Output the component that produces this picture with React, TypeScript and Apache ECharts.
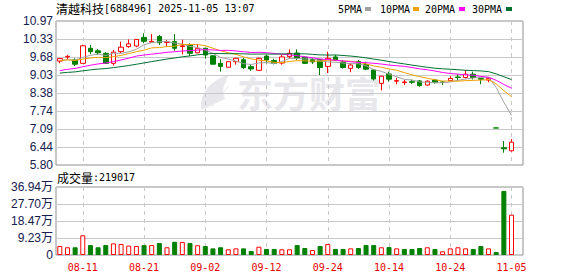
import React, { useEffect, useRef } from "react";
import * as echarts from "echarts";

const stockName = "清越科技";
const stockCode = "688496";
const stamp = "2025-11-05 13:07";

const dates = [
  "08-06", "08-07", "08-08", "08-11", "08-12", "08-13", "08-14", "08-15", "08-18", "08-19",
  "08-20", "08-21", "08-22", "08-25", "08-26", "08-27", "08-28", "08-29", "09-01", "09-02",
  "09-03", "09-04", "09-05", "09-08", "09-09", "09-10", "09-11", "09-12", "09-15", "09-16",
  "09-17", "09-18", "09-19", "09-22", "09-23", "09-24", "09-25", "09-26", "09-29", "09-30",
  "10-09", "10-10", "10-13", "10-14", "10-15", "10-16", "10-17", "10-20", "10-21", "10-22",
  "10-23", "10-24", "10-27", "10-28", "10-29", "10-30", "10-31", "11-03", "11-04", "11-05",
];

const opens = [
  9.53, 9.68, 9.57, 9.45, 9.99, 9.90, 9.81, 9.45, 9.87, 10.05,
  10.07, 10.38, 10.21, 10.41, 10.20, 10.23, 10.05, 10.11, 9.83, 9.99,
  9.72, 9.45, 9.31, 9.51, 9.58, 9.33, 9.20, 9.71, 9.55, 9.46,
  9.69, 9.82, 9.67, 9.59, 9.59, 9.34, 9.68, 9.50, 9.27, 9.51,
  9.40, 9.21, 8.73, 9.07, 8.81, 8.76, 8.79, 8.82, 8.67, 8.85,
  8.78, 8.83, 8.96, 8.94, 9.06, 8.90, 8.85, 7.13, 6.42, 6.31,
];
const closes = [
  9.62, 9.70, 9.42, 10.08, 9.87, 9.83, 9.45, 9.85, 10.03, 10.15,
  10.31, 10.24, 10.24, 10.19, 10.22, 9.99, 10.08, 9.81, 9.99, 9.75,
  9.42, 9.34, 9.51, 9.63, 9.30, 9.25, 9.63, 9.57, 9.45, 9.68,
  9.81, 9.63, 9.45, 9.50, 9.30, 9.63, 9.57, 9.30, 9.39, 9.30,
  9.24, 8.89, 8.99, 8.88, 8.83, 8.78, 8.77, 8.65, 8.81, 8.76,
  8.77, 8.91, 8.94, 9.06, 8.94, 8.88, 8.91, 7.13, 6.38, 6.62,
];
const lows = [
  9.45, 9.60, 9.35, 9.45, 9.78, 9.75, 9.43, 9.37, 9.81, 10.01,
  10.03, 10.17, 10.21, 10.11, 10.05, 9.90, 9.77, 9.71, 9.81, 9.62,
  9.41, 9.15, 9.30, 9.40, 9.25, 9.18, 9.19, 9.45, 9.41, 9.40,
  9.63, 9.57, 9.43, 9.43, 9.03, 9.10, 9.53, 9.26, 9.13, 9.25,
  9.21, 8.83, 8.48, 8.79, 8.70, 8.67, 8.71, 8.61, 8.65, 8.72,
  8.67, 8.83, 8.82, 8.91, 8.87, 8.70, 8.77, 7.13, 6.24, 6.28,
];
const highs = [
  9.64, 9.75, 9.63, 10.12, 10.11, 9.96, 9.85, 9.93, 10.23, 10.31,
  10.31, 10.53, 10.50, 10.47, 10.29, 10.50, 10.30, 10.17, 10.14, 10.00,
  9.74, 9.60, 9.52, 9.65, 9.65, 9.43, 9.65, 9.75, 9.62, 9.77,
  9.95, 9.95, 9.69, 9.65, 9.60, 9.87, 9.75, 9.57, 9.45, 9.57,
  9.51, 9.23, 9.00, 9.15, 8.93, 8.85, 8.87, 8.85, 8.84, 8.89,
  8.81, 8.99, 9.06, 9.21, 9.15, 8.93, 8.93, 7.13, 6.66, 6.73,
];
// closes of the 29 sessions before the first visible one (used for the moving averages)
const prevCloses = [
  8.95, 8.88, 8.92, 8.85, 8.97, 8.90, 8.86, 8.93, 8.98, 8.96,
  8.80, 8.78, 8.85, 8.82, 8.87, 8.79, 8.84, 8.86, 8.88, 8.81,
  9.45, 9.62, 9.58, 9.51, 9.59, 9.55, 9.48, 9.60, 9.50,
];
const volumes = [
  49000, 42000, 42000, 107000, 54000, 42000, 54000, 63000, 60000, 51000,
  49000, 54000, 54000, 65000, 42000, 72000, 71000, 65000, 53000, 49000,
  36000, 42000, 31000, 36000, 36000, 22000, 45000, 33000, 33000, 31000,
  31000, 54000, 38000, 27000, 49000, 60000, 33000, 33000, 36000, 38000,
  54000, 54000, 42000, 43000, 36000, 33000, 33000, 38000, 42000, 33000,
  20000, 36000, 42000, 36000, 33000, 49000, 36000, 16000, 348000, 219017,
];
const volumeUp = [
  1, 1, 0, 1, 0, 0, 0, 1, 1, 1,
  1, 0, 1, 0, 1, 0, 1, 0, 1, 0,
  0, 0, 1, 1, 0, 0, 1, 0, 0, 1,
  1, 0, 0, 1, 0, 1, 0, 0, 1, 0,
  0, 0, 1, 0, 1, 0, 0, 0, 1, 0,
  1, 1, 1, 1, 0, 0, 1, 0, 0, 1,
];

const priceTickLabels = ["5.80", "6.44", "7.09", "7.74", "8.38", "9.03", "9.68", "10.33", "10.97"];
const volumeTickLabels = ["0", "9.23万", "18.47万", "27.70万", "36.94万"];
const PRICE_MIN = 5.8;
const PRICE_MAX = 10.97;
const VOL_MAX = 369400;

const maNames = ["5PMA", "10PMA", "20PMA", "30PMA"];
const maPeriods = [5, 10, 20, 30];
const maColors = ["#a0a0a0", "#f0a000", "#ff00ff", "#007030"];

const UP = "#ff0000";
const DOWN = "#008000";
const GRID = "#c8c8c8";
const FRAME = "#909090";
const AXIS_TXT = "#152050";

const priceStep = (PRICE_MAX - PRICE_MIN) / (priceTickLabels.length - 1);
const volStep = VOL_MAX / (volumeTickLabels.length - 1);
const pn = (p: number) => (p - PRICE_MIN) / priceStep;
const vn = (v: number) => v / volStep;

const logoPath =
  "M4 38 C2 24 10 10 32 2 C26 12 24 20 28 27 C20 31 12 34 4 38 Z M10 36 L30 8 M14 36 L32 14";
echarts.graphic.registerShape("emLogo", echarts.graphic.extendPath(logoPath, {}));

export default function App() {
  const ref = useRef<HTMLDivElement>(null);
  useEffect(() => {
    if (!ref.current) return;
    const chart = echarts.init(ref.current, undefined, { renderer: "svg" });
    const cats = dates.concat([""]);
    const allCloses = prevCloses.concat(closes);
    const ma = (n: number) =>
      closes.map((_, i) => {
        const end = prevCloses.length + i;
        let s = 0;
        for (let k = 0; k < n; k++) s += allCloses[end - k];
        return pn(s / n);
      });
    const candleData = dates.map((_, i) => [pn(opens[i]), pn(closes[i]), pn(lows[i]), pn(highs[i])]);
    const volData = volumes.map((v, i) => ({
      value: vn(v),
      itemStyle: volumeUp[i]
        ? { color: "#ffffff", borderColor: UP, borderWidth: 1 }
        : { color: DOWN, borderColor: DOWN, borderWidth: 1 },
    }));
    const dateTick = (idx: number) => idx % 8 === 3 && idx < dates.length;
    const xBase = {
      type: "category",
      data: cats,
      boundaryGap: true,
      axisLine: { show: false },
      axisTick: { show: false },
      splitLine: {
        show: true,
        interval: dateTick,
        alignWithLabel: true,
        lineStyle: { color: GRID, type: [4, 4], width: 1 },
      },
    };
    const monoFont = "'DejaVu Sans Mono', monospace";
    const cjkFont = "'Noto Sans CJK SC', sans-serif";
    const legendX = [338, 380, 425, 472];
    const markX = [365, 413, 459, 506];
    const graphics: any[] = [
      {
        type: "emLogo",
        x: 198,
        y: 73,
        scaleX: 0.95,
        scaleY: 0.95,
        z: -10,
        style: { fill: "#e8e8ec", stroke: "#e8e8ec" },
      },
      {
        type: "text",
        x: 237,
        y: 92,
        z: -10,
        style: {
          text: "东方财富",
          fontSize: 36,
          fontWeight: "bold",
          fontFamily: cjkFont,
          fill: "#e8e8ec",
          verticalAlign: "middle",
          textVerticalAlign: "middle",
        },
      },
      {
        type: "text",
        x: 56,
        y: 8,
        style: {
          text: `{a|${stockName}}{b|[${stockCode}] ${stamp}}`,
          rich: {
            a: { fontSize: 12, fontFamily: cjkFont, fill: "#000" },
            b: { fontSize: 10, fontFamily: monoFont, fill: "#000" },
          },
          verticalAlign: "middle",
          textVerticalAlign: "middle",
        },
      },
      {
        type: "text",
        x: 57,
        y: 177,
        style: {
          text: `{a|成交量}{b|:${volumes[volumes.length - 1]}}`,
          rich: {
            a: { fontSize: 12, fontFamily: cjkFont, fill: "#000" },
            b: { fontSize: 10, fontFamily: monoFont, fill: "#000" },
          },
          verticalAlign: "middle",
          textVerticalAlign: "middle",
        },
      },
    ];
    maNames.forEach((nm, k) => {
      graphics.push({
        type: "text",
        x: legendX[k],
        y: 9,
        style: {
          text: nm,
          fontSize: 10,
          fontFamily: monoFont,
          fill: "#000",
          verticalAlign: "middle",
          textVerticalAlign: "middle",
        },
      });
      graphics.push({
        type: "rect",
        shape: { x: markX[k], y: 7, width: 6, height: 4 },
        style: { fill: maColors[k] },
      });
    });

    chart.setOption({
      animation: false,
      backgroundColor: "#ffffff",
      grid: [
        { left: 56, top: 21, width: 467, height: 144, show: true, borderColor: FRAME, borderWidth: 1, backgroundColor: "transparent" },
        { left: 56, top: 187, width: 467, height: 68, show: true, borderColor: FRAME, borderWidth: 1, backgroundColor: "transparent" },
      ],
      xAxis: [
        { ...xBase, gridIndex: 0, axisLabel: { show: false } },
        {
          ...xBase,
          gridIndex: 1,
          axisLabel: {
            show: true,
            interval: dateTick,
            color: "#e60000",
            fontSize: 10,
            fontFamily: monoFont,
            margin: 7,
          },
        },
      ],
      yAxis: [
        {
          type: "value",
          gridIndex: 0,
          min: 0,
          max: priceTickLabels.length - 1,
          interval: 1,
          axisLine: { show: false },
          axisTick: { show: false },
          splitLine: { show: true, lineStyle: { color: GRID, width: 1 } },
          axisLabel: {
            formatter: (v: number) => priceTickLabels[Math.round(v)],
            color: AXIS_TXT,
            fontSize: 12,
            fontFamily: "'Liberation Sans', Arial, sans-serif",
            margin: 3,
          },
        },
        {
          type: "value",
          gridIndex: 1,
          min: 0,
          max: volumeTickLabels.length - 1,
          interval: 1,
          axisLine: { show: false },
          axisTick: { show: false },
          splitLine: { show: true, lineStyle: { color: GRID, width: 1 } },
          axisLabel: {
            formatter: (v: number) => volumeTickLabels[Math.round(v)],
            color: AXIS_TXT,
            fontSize: 12,
            fontFamily: "'Liberation Sans', Arial, 'Noto Sans CJK SC', sans-serif",
            margin: 3,
          },
        },
      ],
      graphic: graphics,
      series: [
        {
          type: "candlestick",
          name: "K",
          xAxisIndex: 0,
          yAxisIndex: 0,
          barWidth: 5,
          data: candleData,
          itemStyle: {
            color: "#ffffff",
            color0: DOWN,
            borderColor: UP,
            borderColor0: DOWN,
            borderWidth: 1,
          },
        },
        ...maPeriods.map((n, k) => ({
          type: "line",
          name: maNames[k],
          xAxisIndex: 0,
          yAxisIndex: 0,
          data: ma(n),
          showSymbol: false,
          symbol: "none",
          lineStyle: { color: maColors[k], width: 1 },
          z: 3,
        })),
        {
          type: "bar",
          name: "VOL",
          xAxisIndex: 1,
          yAxisIndex: 1,
          barWidth: 5,
          data: volData,
        },
      ],
    });
    return () => chart.dispose();
  }, []);
  return (
    <div
      ref={ref}
      style={{ position: "fixed", left: 0, top: 0, width: 578, height: 276, background: "#fff" }}
    />
  );
}
